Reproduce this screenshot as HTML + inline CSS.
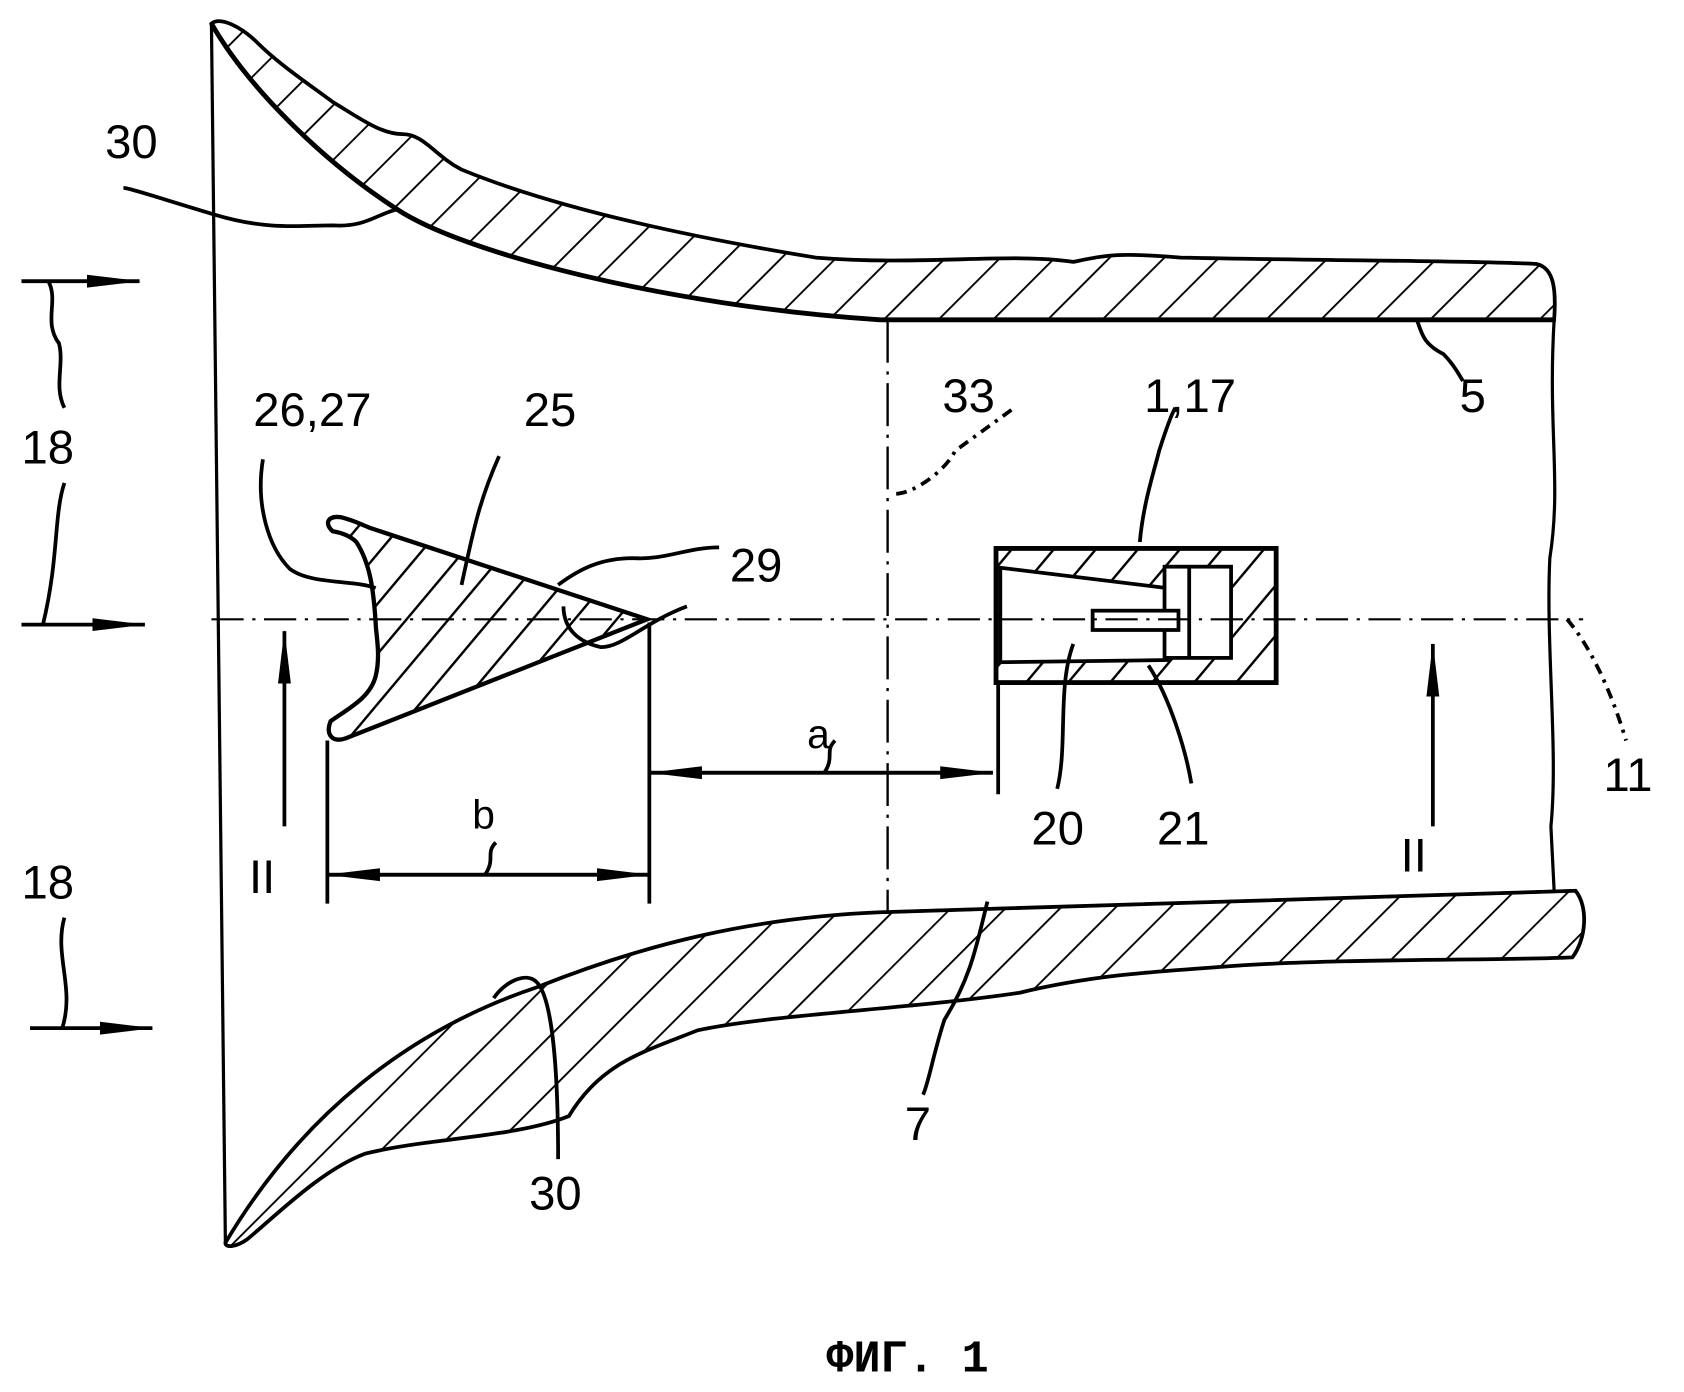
<!DOCTYPE html>
<html><head><meta charset="utf-8"><style>
html,body{margin:0;padding:0;background:#fff;}
svg{display:block}
text{font-family:"Liberation Sans Narrow","Liberation Sans","DejaVu Sans",sans-serif;font-size:44px;fill:#000}
</style></head><body>
<svg width="1684" height="1392" viewBox="0 0 1569 1297" preserveAspectRatio="none" xmlns="http://www.w3.org/2000/svg">
<defs>
<pattern id="h" patternUnits="userSpaceOnUse" width="36" height="36" patternTransform="rotate(45)">
<rect width="36" height="36" fill="#fff"/><line x1="0" y1="0" x2="0" y2="36" stroke="#000" stroke-width="3.5"/>
</pattern>
<pattern id="h2" patternUnits="userSpaceOnUse" width="30" height="30" patternTransform="rotate(40)">
<rect width="30" height="30" fill="#fff"/><line x1="0" y1="0" x2="0" y2="30" stroke="#000" stroke-width="4.5"/>
</pattern>
<marker id="A" markerWidth="50" markerHeight="16" refX="49" refY="8" orient="auto" markerUnits="userSpaceOnUse"><path d="M0,2 L50,8 L0,14 Z" fill="#000"/></marker>
</defs>
<g fill="none" stroke="#000" stroke-width="3.5">
<!-- upper wall -->
<path fill="url(#h)" d="M197,22 C205,15 225,25 240,40 C260,60 290,80 310,95 C335,110 355,125 375,125 C395,125 405,145 430,158 C520,195 650,222 760,240 C860,248 940,235 1000,244 C1030,238 1040,235 1100,240 C1250,243 1380,243 1432,246 C1448,250 1450,270 1448,298 L820,298 C620,285 430,235 370,195 C300,150 230,80 197,22 Z"/>
<path d="M197,22 C230,80 300,150 370,195 C430,235 620,285 820,298 L1448,298" stroke-width="4.5"/>
<!-- lower wall -->
<path fill="url(#h)" d="M210,1158 C280,1040 380,960 500,920 C600,880 700,855 820,850 L1468,830 C1480,845 1478,875 1465,892 C1400,895 1250,893 1150,900 C1080,905 1020,908 950,925 C850,940 720,945 650,960 C600,980 560,990 530,1040 C480,1060 400,1060 340,1075 C300,1090 260,1130 230,1155 C220,1162 210,1163 210,1158 Z"/>
<line x1="197" y1="22" x2="210" y2="1158" stroke-width="3"/>
<path d="M1448,298 C1442,400 1455,450 1444,520 C1440,600 1452,700 1445,770 L1448,830" stroke-width="3"/>
<line x1="820" y1="850" x2="1468" y2="830" stroke-width="3"/>
<!-- wedge 25 -->
<path fill="url(#h2)" stroke-width="4" d="M310,495 C302,488 305,480 318,482 C330,485 335,488 345,492 L603,577 L322,688 C310,692 303,685 308,672 C325,660 345,650 350,630 C355,610 350,590 350,580 C348,550 345,525 332,505 C325,498 316,496 310,495 Z"/>
<!-- sensor -->
<rect x="928" y="511" width="261" height="125" fill="url(#h2)" stroke-width="4.5"/>
<path d="M932,529 L1088,548 L1088,615 L932,617 Z" fill="#fff" stroke-width="3.5"/>
<rect x="1085" y="528" width="62" height="85" fill="#fff" stroke-width="3.5"/>
<line x1="1108" y1="528" x2="1108" y2="613" stroke-width="3.5"/>
<rect x="1018" y="569" width="80" height="18" fill="#fff" stroke-width="3.5"/>
<!-- centerline -->
<path d="M197,577 L1475,577" stroke-width="2" stroke-dasharray="30,8,3,8"/>
<path d="M827,298 L827,850" stroke-width="2.2" stroke-dasharray="40,8,3,8"/>
<!-- leaders -->
<path d="M115,175 C120,175 150,185 200,200 C250,215 280,210 310,210 C340,212 350,200 370,195"/>
<path d="M245,428 C238,470 250,510 270,530 C290,545 330,540 350,548"/>
<path d="M465,425 C445,470 440,500 430,545"/>
<path d="M520,545 C540,530 560,520 590,520 C620,522 640,510 670,510"/>
<path d="M525,565 C525,590 545,600 560,603 C580,603 600,580 640,565"/>
<path d="M835,460 C850,460 880,440 890,420 L945,380" stroke-dasharray="10,6,3,6"/>
<path d="M1062,505 C1065,470 1075,440 1080,420 C1088,395 1092,385 1095,380"/>
<path d="M1363,355 C1360,350 1355,340 1345,330 C1325,320 1325,310 1320,298"/>
<path d="M1460,577 C1480,600 1500,640 1515,690" stroke-dasharray="10,6,3,6"/>
<path d="M1000,600 C985,640 995,695 985,735"/>
<path d="M1070,620 C1090,650 1105,700 1110,730"/>
<path d="M520,1080 C520,1000 515,930 500,915 C490,905 470,915 460,930"/>
<path d="M920,840 C910,880 905,910 880,950 C870,980 865,1010 860,1020"/>
<!-- dimensions -->
<line x1="305" y1="690" x2="305" y2="842"/>
<line x1="605" y1="580" x2="605" y2="842"/>
<line x1="930" y1="636" x2="930" y2="740"/>
<line x1="305" y1="815" x2="605" y2="815" marker-end="url(#A)"/>
<line x1="605" y1="815" x2="305" y2="815" marker-end="url(#A)"/>
<line x1="605" y1="720" x2="925" y2="720" marker-end="url(#A)"/>
<line x1="925" y1="720" x2="605" y2="720" marker-end="url(#A)"/>
<path d="M452,815 C462,800 452,795 462,785"/>
<path d="M768,720 C778,705 768,700 778,690"/>
<!-- flow arrows 18 -->
<line x1="20" y1="262" x2="130" y2="262" marker-end="url(#A)"/>
<line x1="20" y1="582" x2="135" y2="582" marker-end="url(#A)"/>
<line x1="28" y1="958" x2="142" y2="958" marker-end="url(#A)"/>
<path d="M45,262 C55,280 40,300 55,320 C60,340 50,360 60,380"/>
<path d="M60,450 C50,480 55,520 40,582"/>
<path d="M60,855 C50,890 70,920 58,958"/>
<!-- section arrows II -->
<line x1="265" y1="770" x2="265" y2="588" marker-end="url(#A)"/>
<line x1="1335" y1="770" x2="1335" y2="600" marker-end="url(#A)"/>
</g>
<text x="98" y="147">30</text>
<text x="236" y="397">26,27</text>
<text x="488" y="397">25</text>
<text x="680" y="542">29</text>
<text x="878" y="384">33</text>
<text x="1066" y="384">1,17</text>
<text x="1360" y="384">5</text>
<text x="1494" y="737">11</text>
<text x="961" y="787">20</text>
<text x="1078" y="787">21</text>
<text x="20" y="432">18</text>
<text x="20" y="837">18</text>
<text x="232" y="832">II</text>
<text x="1305" y="812">II</text>
<text x="493" y="1127">30</text>
<text x="843" y="1062">7</text>
<text x="440" y="772" style="font-size:38px">b</text>
<text x="752" y="697" style="font-size:38px">a</text>
<text x="770" y="1278" style="font-family:'Liberation Mono','DejaVu Sans Mono',monospace;font-size:42px;font-weight:bold">ФИГ. 1</text>
</svg>
</body></html>
